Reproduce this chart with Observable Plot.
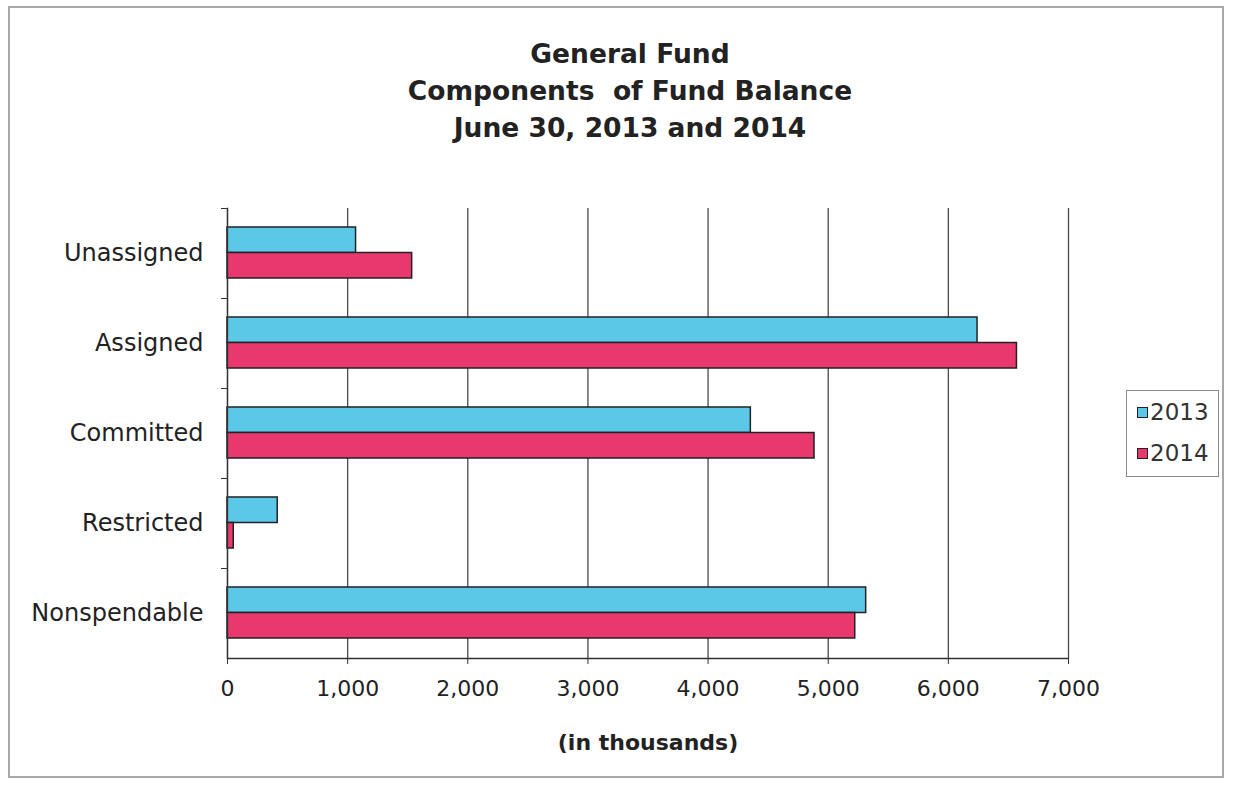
<!DOCTYPE html>
<html>
<head>
<meta charset="utf-8">
<script src="https://cdn.jsdelivr.net/npm/d3@7"></script>
<script src="https://cdn.jsdelivr.net/npm/@observablehq/plot@0.6"></script>
<style>
  html, body { margin: 0; padding: 0; background: #fff; }
  #wrap { position: relative; width: 1233px; height: 792px; background: #fff; font-family: "DejaVu Sans", sans-serif; color: #222; }
  #border { position: absolute; left: 8px; top: 6px; width: 1216px; height: 772px; border: 2px solid #a8a8a8; box-sizing: border-box; }
  #title { position: absolute; left: 0; top: 35px; width: 1260px; text-align: center; font-weight: bold; font-size: 26.5px; line-height: 37px; color: #222; }
  #chart { position: absolute; left: 0; top: 0; }
  #legend { position: absolute; left: 1126px; top: 390px; width: 93px; height: 87px; border: 1px solid #8a8a8a; box-sizing: border-box; }
  .item { position: absolute; left: 10px; font-size: 23px; line-height: 24px; color: #333; display: flex; align-items: center; }
  .sw { width: 9px; height: 9px; border: 1.5px solid #222; margin-right: 2px; }
</style>
</head>
<body>
<div id="wrap">
  <div id="border"></div>
  <div id="chart"></div>
  <div id="title"></div>
  <div id="legend"></div>
</div>
<script>
// ---- data ----
const titleLines = ["General Fund", "Components  of Fund Balance", "June 30, 2013 and 2014"];
const categories = ["Unassigned", "Assigned", "Committed", "Restricted", "Nonspendable"];
const series = ["2013", "2014"];
const values2013 = [1070, 6243, 4356, 418, 5316];
const values2014 = [1537, 6571, 4886, 52, 5225];
const xTicks = [0, 1000, 2000, 3000, 4000, 5000, 6000, 7000];
const xLabel = "(in thousands)";
const colors = ["#5cc8e8", "#e8386e"];

const rows2013 = categories.map((c, i) => ({category: c, value: values2013[i]}));
const rows2014 = categories.map((c, i) => ({category: c, value: values2014[i]}));

document.getElementById("title").innerHTML = titleLines.map(t => t.replace(/  /g, " &nbsp;")).join("<br>");

const legend = document.getElementById("legend");
series.forEach((s, i) => {
  const d = document.createElement("div");
  d.className = "item";
  d.style.top = (i === 0 ? 9 : 50) + "px";
  d.innerHTML = `<span class="sw" style="background:${colors[i]}"></span><span>${s}</span>`;
  legend.appendChild(d);
});

const chart = Plot.plot({
  width: 1233,
  height: 792,
  marginLeft: 227,
  marginRight: 165,
  marginTop: 208,
  marginBottom: 134,
  style: {fontFamily: "DejaVu Sans, sans-serif", color: "#222", background: "transparent", overflow: "visible"},
  x: {domain: [0, 7000]},
  y: {domain: categories, padding: 0, round: false},
  marks: [
    Plot.gridX(xTicks, {stroke: "#4a4a4a", strokeOpacity: 1, strokeWidth: 1.3}),
    Plot.barX(rows2013, {y: "category", x: "value", fill: colors[0], stroke: "#222", strokeWidth: 1.5, insetTop: 19, insetBottom: 45.5}),
    Plot.barX(rows2014, {y: "category", x: "value", fill: colors[1], stroke: "#222", strokeWidth: 1.5, insetTop: 44.5, insetBottom: 20}),
    Plot.frame({anchor: "left", stroke: "#333", strokeWidth: 1.3}),
    Plot.frame({anchor: "bottom", stroke: "#333", strokeWidth: 1.3}),
    Plot.axisX({ticks: xTicks, tickFormat: d3.format(","), tickSize: 6, tickPadding: 16, fontSize: 22, label: null, stroke: "#333"}),
    Plot.axisY({tickSize: 6, tickFormat: () => "", dy: -45, label: null, stroke: "#333"}),
    Plot.axisY({tickSize: 0, tickPadding: 24, fontSize: 24, label: null}),
    Plot.text([xLabel], {frameAnchor: "bottom", dy: 91, fontSize: 22, fontWeight: "bold", fill: "#222"})
  ]
});
document.getElementById("chart").appendChild(chart);
</script>
</body>
</html>
